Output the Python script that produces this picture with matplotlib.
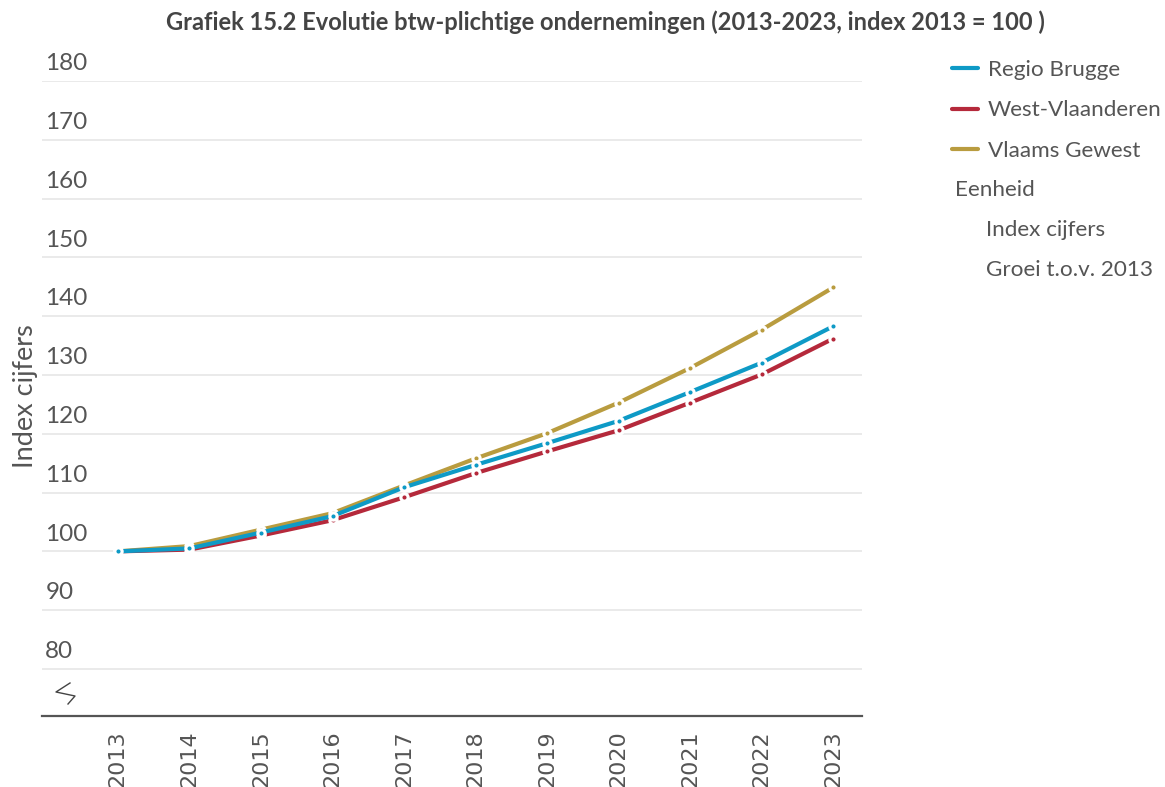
import matplotlib
matplotlib.use('Agg')
import matplotlib.pyplot as plt

plt.rcParams['font.family'] = ['Lato', 'DejaVu Sans']

# data
years = [2013, 2014, 2015, 2016, 2017, 2018, 2019, 2020, 2021, 2022, 2023]
regio_brugge = [100.0, 100.5, 103.2, 106.0, 110.9, 114.7, 118.4, 122.2, 127.1, 132.1, 138.3]
west_vlaanderen = [100.0, 100.3, 102.7, 105.3, 109.2, 113.3, 117.0, 120.6, 125.3, 130.1, 136.2]
vlaams_gewest = [100.0, 100.9, 103.7, 106.5, 111.2, 115.8, 120.1, 125.3, 131.2, 137.7, 144.9]

series_names = ['Regio Brugge', 'West-Vlaanderen', 'Vlaams Gewest']
colors = ['#0e9ac6', '#b5293b', '#b99c3f']
y_ticks = [80, 90, 100, 110, 120, 130, 140, 150, 160, 170, 180]
unit_title = 'Eenheid'
unit_items = ['Index cijfers', 'Groei t.o.v. 2013']

txt = '#555555'
W, H = 1165, 787

fig = plt.figure(figsize=(W / 100, H / 100), dpi=100)
ax = fig.add_axes([42 / W, 1 - 716 / H, 820 / W, 635 / H])

series = [regio_brugge, west_vlaanderen, vlaams_gewest]
handles = [None] * 3
for i in [2, 1, 0]:
    h, = ax.plot(years, series[i], color=colors[i], lw=3, marker='o',
                 markersize=5.25, markerfacecolor=colors[i],
                 markeredgecolor='white', markeredgewidth=2.25,
                 solid_capstyle='round', zorder=3 + (2 - i))
    handles[i] = h

ax.set_xlim(2011.94, 2023.4)
ax.set_ylim(72, 180)
ax.set_yticks(y_ticks)
ax.set_yticklabels([])
ax.grid(axis='y', color='#e6e6e6', lw=1.2)
ax.set_axisbelow(True)
ax.tick_params(axis='y', length=0)
ax.tick_params(axis='x', length=0, pad=10, labelsize=16, labelcolor=txt, rotation=90)
ax.set_xticks(years)
ax.set_xticklabels([str(y) for y in years], family='DejaVu Sans')
for s in ['top', 'right', 'left']:
    ax.spines[s].set_visible(False)
ax.spines['bottom'].set_color('#555555')
ax.spines['bottom'].set_linewidth(1.6)

# y labels above the gridlines
for v in y_ticks:
    ax.text(0.004, v + 1.15, str(v), transform=ax.get_yaxis_transform(),
            ha='left', va='bottom', fontsize=17.5, color=txt)

# axis break symbol
bx = [(70 - 42) / 820, (56 - 42) / 820, (75 - 42) / 820, (68 - 42) / 820]
by = [(716 - 683) / 635, (716 - 692) / 635, (716 - 696) / 635, (716 - 704) / 635]
ax.plot(bx, by, transform=ax.transAxes, color='#444444', lw=1, clip_on=False)

fig.text(26 / W, 1 - 396 / H, 'Index cijfers', rotation=90, ha='center', va='center',
         fontsize=19.5, color=txt)

fig.suptitle('Grafiek 15.2 Evolutie btw-plichtige ondernemingen (2013-2023, index 2013 = 100 )',
             x=605 / W, y=1 - 22 / H, va='center', fontsize=17, fontweight='bold', color='#444444')

leg = fig.legend(handles, series_names, loc='upper left',
                 bbox_to_anchor=(952 / W, 1 - 60 / H), frameon=False,
                 fontsize=16.2, handlelength=1.15, handletextpad=0.45,
                 labelspacing=0.91, borderpad=0, borderaxespad=0)
for t in leg.get_texts():
    t.set_color(txt)
for lh in leg.legend_handles:
    lh.set_marker('')
    lh.set_linewidth(3)

fig.text(955 / W, 1 - 190 / H, unit_title, ha='left', va='center', fontsize=16.2, color=txt)
for k, item in enumerate(unit_items):
    fig.text(986 / W, 1 - (230 + 40 * k) / H, item, ha='left', va='center',
             fontsize=16.2, color=txt)

fig.savefig('out.png', dpi=100)
